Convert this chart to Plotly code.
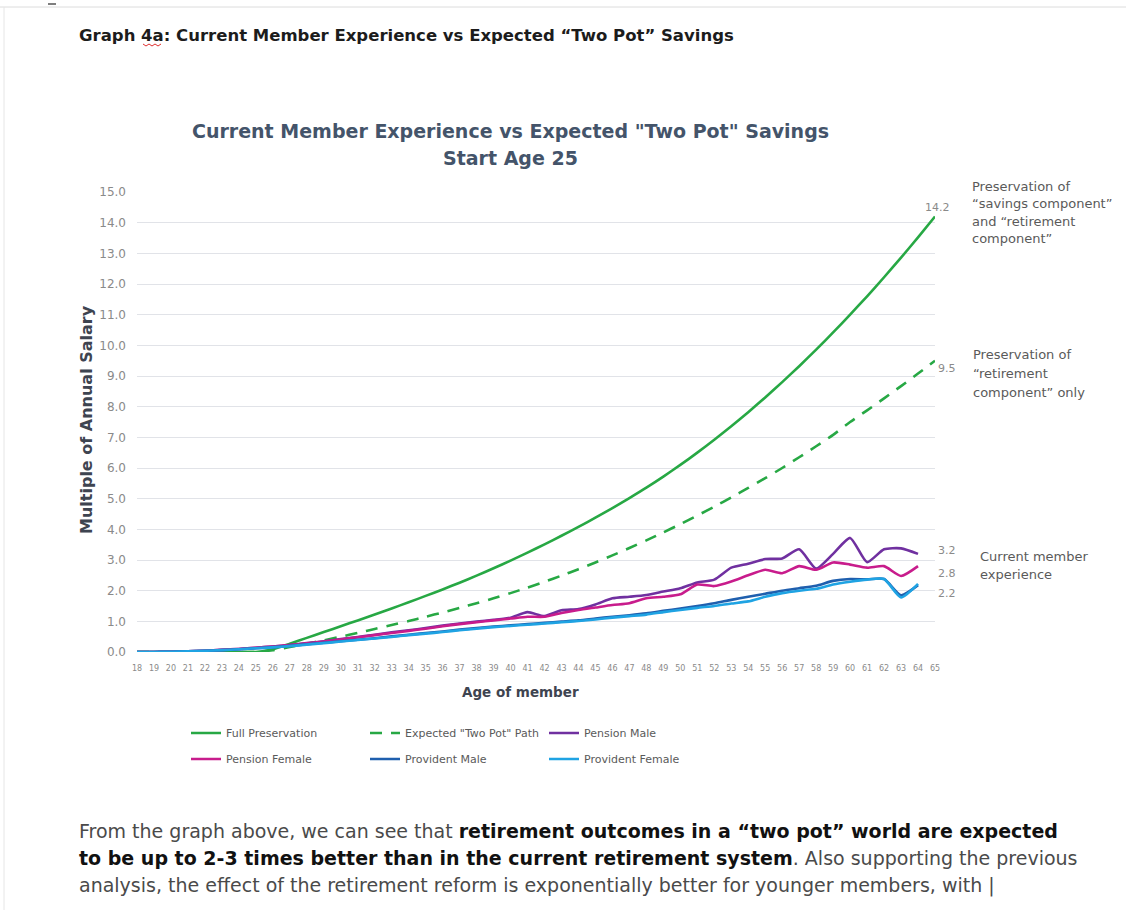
import plotly.graph_objects as go

# ---------------- data ----------------
ages = list(range(18, 66))

full_preservation = [0, 0, 0, 0, 0, 0, 0, 0, 0.09, 0.27, 0.46, 0.65, 0.84, 1.03, 1.22, 1.42,
                     1.62, 1.83, 2.04, 2.26, 2.49, 2.73, 2.98, 3.24, 3.51, 3.79, 4.08, 4.38,
                     4.69, 5.02, 5.36, 5.72, 6.10, 6.50, 6.92, 7.36, 7.82, 8.30, 8.80, 9.32,
                     9.86, 10.42, 11.00, 11.60, 12.22, 12.86, 13.52, 14.20]

two_pot_path = [0, 0, 0, 0, 0, 0, 0, 0, 0.06, 0.16, 0.27, 0.38, 0.50, 0.62, 0.75, 0.88,
                1.01, 1.15, 1.29, 1.44, 1.59, 1.75, 1.92, 2.10, 2.29, 2.49, 2.70, 2.92,
                3.15, 3.39, 3.64, 3.90, 4.17, 4.45, 4.74, 5.04, 5.35, 5.67, 6.00, 6.35,
                6.71, 7.08, 7.50, 7.88, 8.27, 8.67, 9.08, 9.50]

pension_male = [0.0, 0.0, 0.01, 0.02, 0.04, 0.07, 0.10, 0.14, 0.18, 0.23, 0.29, 0.35, 0.42,
                0.49, 0.56, 0.64, 0.71, 0.78, 0.86, 0.93, 0.99, 1.05, 1.12, 1.30, 1.17, 1.36,
                1.40, 1.55, 1.75, 1.80, 1.86, 1.97, 2.08, 2.27, 2.36, 2.75, 2.88, 3.03, 3.05,
                3.35, 2.72, 3.20, 3.72, 2.93, 3.35, 3.38, 3.20, None]

pension_female = [0.0, 0.0, 0.01, 0.02, 0.04, 0.07, 0.10, 0.14, 0.18, 0.23, 0.28, 0.34, 0.41,
                  0.48, 0.55, 0.62, 0.69, 0.76, 0.84, 0.91, 0.97, 1.03, 1.09, 1.15, 1.15, 1.27,
                  1.37, 1.45, 1.53, 1.59, 1.75, 1.80, 1.88, 2.20, 2.15, 2.30, 2.50, 2.68, 2.57,
                  2.80, 2.68, 2.92, 2.85, 2.75, 2.80, 2.48, 2.80, None]

provident_male = [0.0, 0.0, 0.01, 0.02, 0.04, 0.06, 0.09, 0.12, 0.16, 0.20, 0.25, 0.30, 0.35,
                  0.40, 0.45, 0.51, 0.56, 0.62, 0.67, 0.73, 0.78, 0.83, 0.87, 0.91, 0.95, 0.99,
                  1.03, 1.09, 1.15, 1.20, 1.26, 1.34, 1.42, 1.50, 1.59, 1.70, 1.80, 1.90, 2.00,
                  2.08, 2.16, 2.32, 2.38, 2.37, 2.38, 1.85, 2.18, None]

provident_female = [0.0, 0.0, 0.01, 0.02, 0.04, 0.06, 0.09, 0.12, 0.15, 0.19, 0.24, 0.29, 0.34,
                    0.39, 0.44, 0.49, 0.55, 0.60, 0.65, 0.71, 0.76, 0.81, 0.85, 0.89, 0.93, 0.97,
                    1.01, 1.06, 1.12, 1.17, 1.22, 1.30, 1.37, 1.44, 1.50, 1.58, 1.65, 1.80, 1.92,
                    2.00, 2.06, 2.20, 2.29, 2.36, 2.38, 1.78, 2.22, None]

y_ticks = [0, 1, 2, 3, 4, 5, 6, 7, 8, 9, 10, 11, 12, 13, 14, 15]

# ---------------- layout helpers ----------------
W, H = 1126, 910
L, R, T, B = 137, 935, 192, 652


def px(x):
    return (x - L) / (R - L)


def py(y):
    return (B - y) / (B - T)


FONT = "DejaVu Sans"
fig = go.Figure()

series = [
    ("Full Preservation", full_preservation, "#27a844", "solid", "legend"),
    ("Expected \"Two Pot\" Path", two_pot_path, "#27a844", "12px,9px", "legend"),
    ("Pension Male", pension_male, "#7030a0", "solid", "legend"),
    ("Pension Female", pension_female, "#c81c8c", "solid", "legend2"),
    ("Provident Male", provident_male, "#1f5fae", "solid", "legend2"),
    ("Provident Female", provident_female, "#1fa3e3", "solid", "legend2"),
]
for name, vals, col, dash, leg in series:
    fig.add_trace(go.Scatter(
        x=ages, y=vals, name=name, mode="lines", legend=leg,
        line=dict(color=col, width=2.6, dash=dash, shape="spline", smoothing=0.6),
        hoverinfo="skip", connectgaps=False,
    ))

annotations = []


def last_val(v):
    return [a for a in v if a is not None][-1]


end_labels = [
    (65, last_val(full_preservation), "center", 2, 9),
    (65, last_val(two_pot_path), "left", 1, -8),
    (65, last_val(pension_male), "left", 1, 3),
    (65, last_val(pension_female), "left", 1, -7),
    (65, last_val(provident_male), "left", 1, -8),
]
for xv, yv, xa, xs, ys in end_labels:
    annotations.append(dict(x=xv, y=yv, xref="x", yref="y", text=f"{yv:.1f}",
                            showarrow=False, xanchor=xa, yanchor="middle", xshift=xs, yshift=ys,
                            font=dict(family=FONT, size=11, color="#8a8a8a")))


def text_at(t, x0, y0, size, color, anchor="left", family=FONT, angle=0):
    annotations.append(dict(x=px(x0), y=py(y0), xref="paper", yref="paper", text=t,
                            showarrow=False, xanchor=anchor, yanchor="middle", textangle=angle,
                            font=dict(family=family, size=size, color=color)))


def text_lines(lines, x0, ys, size=13, color="#5a5a5a"):
    for t, yy in zip(lines, ys):
        text_at(t, x0, yy, size, color)


text_lines(["Preservation of", "\u201csavings component\u201d", "and \u201cretirement",
            "component\u201d"], 970, [187, 204, 221, 238])
text_lines(["Preservation of", "\u201cretirement", "component\u201d only"], 971, [354, 373, 392])
text_lines(["Current member", "experience"], 978, [556, 574])

# chart title
text_at("<b>Current Member Experience vs Expected \"Two Pot\" Savings</b>", 510, 131, 19,
        "#44546a", anchor="center")
text_at("<b>Start Age 25</b>", 510, 158, 19, "#44546a", anchor="center")
# axis titles
text_at("<b>Multiple of Annual Salary</b>", 86, 420, 16, "#3e4450", anchor="center", angle=-90)
text_at("<b>Age of member</b>", 520, 692, 13.5, "#3e4450", anchor="center")
# document heading
text_at("<b>Graph 4a: Current Member Experience vs Expected \u201cTwo Pot\u201d Savings</b>",
        77, 35, 16.5, "#1c1c1c")
# paragraph
para = [
    "From the graph above, we can see that <span style='color:#111'><b>retirement outcomes in a "
    "\u201ctwo pot\u201d world are expected</b></span>",
    "<span style='color:#111'><b>to be up to 2-3 times better than in the current retirement "
    "system</b></span>. Also supporting the previous",
    "analysis, the effect of the retirement reform is exponentially better for younger members, with |",
]
for t, yy in zip(para, [831, 858, 885]):
    text_at(t, 77, yy, 19, "#4a4a4a")

shapes = [
    dict(type="line", xref="paper", yref="paper", x0=px(0), x1=px(1126), y0=py(7), y1=py(7),
         line=dict(color="#dcdcdc", width=1)),
    dict(type="line", xref="paper", yref="paper", x0=px(4), x1=px(4), y0=py(7), y1=py(910),
         line=dict(color="#e6e6e6", width=1)),
    dict(type="line", xref="paper", yref="paper", x0=px(48), x1=px(56), y0=py(4), y1=py(4),
         line=dict(color="#555555", width=1.5)),
    dict(type="path", xref="paper", yref="paper",
         path="M {0},{1} L {2},{3} L {4},{1} L {5},{3} L {6},{1} L {7},{3} L {8},{1}".format(
             px(143), py(44), px(146), py(46), px(149), px(152), px(155), px(158), px(161)),
         line=dict(color="#e03030", width=1)),
]

leg_common = dict(orientation="h", x=px(186), xanchor="left", yanchor="middle",
                  entrywidth=134, entrywidthmode="pixels", traceorder="normal",
                  font=dict(family=FONT, size=11, color="#5a5a5a"), bgcolor="rgba(0,0,0,0)")

fig.update_layout(
    width=W, height=H,
    margin=dict(l=L, r=W - R, t=T, b=H - B, autoexpand=False),
    paper_bgcolor="white", plot_bgcolor="white",
    font=dict(family=FONT, color="#5a5a5a"),
    showlegend=True,
    legend=dict(y=py(733), **leg_common),
    legend2=dict(y=py(759), **leg_common),
    xaxis=dict(range=[18, 65], tickmode="array", tickvals=ages, ticktext=[str(a) for a in ages],
               showgrid=False, zeroline=False, showline=False, ticks="",
               tickfont=dict(family=FONT, size=8, color="#8a8a8a"), tickangle=0,
               ticklabelstandoff=10),
    yaxis=dict(range=[0, 15], tickmode="array", tickvals=y_ticks,
               ticktext=[f"{v:.1f}" for v in y_ticks],
               showgrid=True, gridcolor="#e1e3e8", gridwidth=1.2, zeroline=False,
               showline=False, ticks="", ticklabelstandoff=10,
               tickfont=dict(family=FONT, size=12, color="#8a8a8a")),
    annotations=annotations,
    shapes=shapes,
)

fig.write_html("out.html")
